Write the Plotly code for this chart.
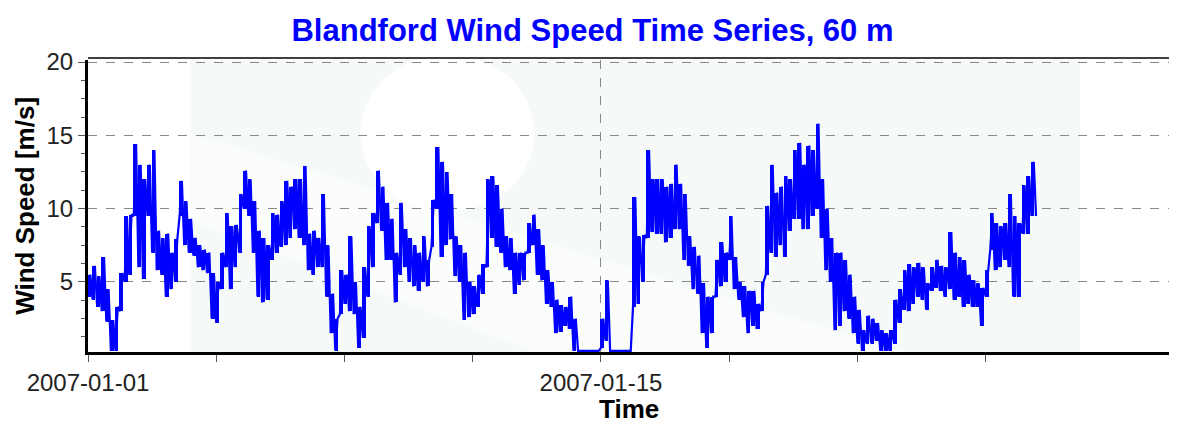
import pandas as pd
import plotly.graph_objects as go

# ---- data: 3-hourly low / high envelope of the 10-min wind speed record (m/s) ----
start_time = "2007-01-01 00:00"
step_hours = 3

lo_values = [
    4.0, 3.8, 3.3, 3.0, 2.3, 0.3, 0.3, 3.0,        # Jan 01
    5.0, 5.5, 9.5, 6.0, 5.2, 9.5, 7.0, 5.8,        # Jan 02
    5.5, 4.0, 4.5, 5.0, 9.5, 7.5, 7.0, 6.8,        # Jan 03
    6.0, 5.8, 5.6, 2.5, 2.2, 4.5, 6.0, 4.5,        # Jan 04
    6.0, 7.0, 10.0, 9.5, 7.0, 4.0, 3.6, 3.8,       # Jan 05
    6.5, 7.0, 7.4, 7.5, 8.0, 8.6, 8.0, 7.5,        # Jan 06
    5.8, 5.5, 6.0, 6.0, 4.0, 1.5, 0.3, 2.8,        # Jan 07
    3.5, 3.0, 2.8, 0.5, 1.2, 4.0, 6.0, 9.0,        # Jan 08
    8.5, 6.5, 6.5, 3.6, 5.5, 6.0, 5.0, 4.7,        # Jan 09
    4.4, 5.0, 4.7, 7.4, 10.0, 6.7, 7.5, 7.9,       # Jan 10
    5.4, 5.0, 2.4, 2.6, 2.8, 3.3, 4.2, 6.0,        # Jan 11
    8.0, 7.4, 7.0, 6.0, 5.8, 4.2, 4.8, 5.1,        # Jan 12
    7.0, 7.5, 5.5, 5.1, 3.5, 3.3, 1.5, 1.6,        # Jan 13
    2.0, 1.8, 0.3, 0.3, 0.3, 0.3, 0.3, 0.3,        # Jan 14
    0.5, 1.0, 0.3, 0.3, 0.3, 0.3, 0.3, 3.3,        # Jan 15
    3.5, 5.0, 8.0, 8.4, 8.3, 8.3, 7.7, 8.0,        # Jan 16
    8.6, 8.6, 6.5, 6.1, 4.5, 4.2, 1.5, 0.5,        # Jan 17
    1.5, 4.0, 4.7, 5.0, 6.5, 4.5, 3.8, 2.6,        # Jan 18
    1.5, 2.0, 1.8, 3.0, 5.5, 7.0, 6.7, 7.5,        # Jan 19
    6.7, 8.5, 9.3, 9.3, 8.6, 8.6, 9.5, 10.0,       # Jan 20
    8.0, 5.8, 5.0, 1.7, 2.0, 3.0, 2.5, 1.5,        # Jan 21
    0.8, 0.3, 0.8, 0.8, 1.0, 0.3, 0.3, 0.3,        # Jan 22
    0.8, 2.2, 3.1, 3.0, 3.5, 4.0, 3.8, 3.1,        # Jan 23
    4.4, 4.6, 4.4, 4.0, 4.5, 3.8, 4.0, 3.3,        # Jan 24
    3.5, 3.3, 3.3, 2.0, 4.0, 7.2, 5.8, 6.0,        # Jan 25
    6.5, 6.0, 4.0, 4.0, 8.3, 8.3, 9.5,             # Jan 26
]
hi_values = [
    5.5, 6.1, 5.4, 6.7, 4.5, 2.4, 3.3, 5.6,
    9.5, 9.6, 14.4, 13.0, 12.0, 13.0, 14.0, 8.5,
    8.0, 8.3, 7.0, 7.9, 11.9, 10.5, 9.3, 8.0,
    7.5, 7.2, 7.0, 5.6, 5.0, 7.0, 9.7, 8.8,
    8.9, 11.0, 12.6, 12.0, 10.5, 8.5, 8.0, 7.5,
    9.7, 9.6, 10.5, 11.9, 11.5, 12.0, 12.0, 12.9,
    8.3, 8.5, 8.0, 11.0, 7.5, 4.2, 2.5, 5.8,
    5.5, 8.1, 5.0, 3.3, 6.0, 8.8, 9.7, 12.6,
    11.5, 10.4, 9.3, 7.0, 10.4, 8.6, 8.0, 7.5,
    7.0, 8.1, 6.5, 10.6, 14.2, 13.2, 12.5, 11.0,
    8.1, 7.5, 7.0, 5.0, 4.7, 5.5, 6.2, 12.0,
    12.2, 11.6, 10.0, 8.1, 8.0, 7.0, 7.0, 7.0,
    9.0, 9.6, 8.6, 7.5, 5.8, 5.0, 3.8, 3.4,
    3.3, 4.0, 2.5, 0.3, 0.3, 0.3, 0.3, 0.3,
    2.5, 5.1, 0.3, 0.3, 0.3, 0.3, 0.3, 10.8,
    8.1, 8.2, 14.0, 12.0, 12.0, 12.0, 11.5, 11.7,
    13.0, 11.7, 11.0, 8.1, 7.4, 6.8, 4.9, 4.0,
    4.0, 6.5, 7.7, 7.0, 9.5, 6.7, 5.0, 4.7,
    4.4, 4.4, 3.5, 5.0, 10.2, 13.0, 11.1, 11.5,
    12.2, 12.0, 14.0, 14.5, 13.0, 14.3, 14.0, 15.8,
    12.0, 10.0, 8.0, 7.0, 7.0, 6.5, 5.5, 4.0,
    3.1, 1.7, 2.7, 2.5, 2.2, 1.7, 1.5, 1.7,
    3.8, 4.5, 5.8, 6.2, 6.0, 6.3, 6.0, 4.9,
    6.0, 6.5, 6.1, 6.0, 8.4, 7.0, 6.7, 6.5,
    5.5, 5.1, 4.9, 4.6, 5.8, 9.7, 9.0, 8.8,
    9.0, 11.0, 9.5, 9.0, 11.6, 12.2, 13.2,
]
last_value = 9.5

x_tick_vals = ["2007-01-01", "2007-01-15"]
x_tick_text = ["2007-01-01", "2007-01-15"]
x_minor_vals = ["2007-01-04 12:00", "2007-01-08", "2007-01-11 12:00",
                "2007-01-18 12:00", "2007-01-22", "2007-01-25 12:00"]
y_tick_vals = [5, 10, 15, 20]

# ---- build the series: each 3-h step contributes its low then its high ----
t0 = pd.Timestamp(start_time)
step = pd.Timedelta(hours=step_hours)
half = step / 2
times, speeds = [], []
bar_x, bar_base, bar_len = [], [], []
for i, (lo, hi) in enumerate(zip(lo_values, hi_values)):
    t = t0 + step * i
    times += [t, t + half]
    speeds += [lo, hi]
    bar_x.append(t + half / 2)
    bar_base.append(lo)
    bar_len.append(hi - lo)
times.append(t0 + step * len(lo_values))
speeds.append(last_value)

fig = go.Figure()
# the band of fast fluctuations inside each 3-h step
fig.add_trace(go.Bar(x=bar_x, y=bar_len, base=bar_base,
                     width=2.3 * 3600 * 1000, marker=dict(color="#0000ff", line_width=0),
                     showlegend=False, hoverinfo="skip"))
fig.add_trace(go.Scatter(x=times, y=speeds, mode="lines",
                         line=dict(color="#0000ff", width=2.2),
                         showlegend=False, hoverinfo="x+y"))

# faint watermark in the plot background
wm = "rgba(236,244,239,0.5)"
fig.add_shape(type="rect", xref="paper", yref="paper", x0=0.094, x1=0.911, y0=0, y1=1,
              fillcolor=wm, line_width=0, layer="below")
fig.add_shape(type="circle", xref="paper", yref="paper", x0=0.25, x1=0.41, y0=0.48, y1=1.02,
              fillcolor="white", line_width=0, layer="below")
fig.add_shape(type="path", xref="paper", yref="paper",
              path="M 0.41 0 L 0.75 0 L 0.094 0.75 L 0.094 0.45 Z",
              fillcolor="rgba(255,255,255,0.6)", line_width=0, layer="below")
# thin top frame line
fig.add_shape(type="line", xref="paper", yref="paper", x0=0, x1=1, y0=1.007, y1=1.007,
              line=dict(color="black", width=1.5))

font_family = "Liberation Sans, Arial, sans-serif"
fig.add_annotation(text="<b>Wind Speed [m/s]</b>", xref="paper", yref="paper",
                   x=-0.058, y=0.50, textangle=-90, showarrow=False,
                   xanchor="center", yanchor="middle",
                   font=dict(family=font_family, size=26, color="black"))
fig.add_annotation(text="<b>Time</b>", xref="paper", yref="paper",
                   x=0.497, y=-0.196, showarrow=False,
                   xanchor="center", yanchor="middle",
                   font=dict(family=font_family, size=26, color="black"))

# the page body has an 8 px margin, so the figure is 8 px smaller and margins shifted
fig.update_layout(
    width=1169, height=417,
    margin=dict(l=80, r=0, t=52, b=73, autoexpand=False),
    paper_bgcolor="white", plot_bgcolor="white",
    bargap=0,
    title=dict(text="<b>Blandford Wind Speed Time Series, 60 m</b>",
               x=0.5, xanchor="center", y=0.947, yanchor="middle",
               font=dict(family=font_family, size=31, color="#0000ff")),
    font=dict(family=font_family, color="#222222"),
    xaxis=dict(
        range=["2007-01-01", "2007-01-30 17:20"],
        automargin=False,
        tickmode="array", tickvals=x_tick_vals, ticktext=x_tick_text,
        ticks="outside", ticklen=7, tickwidth=1, tickcolor="#555555",
        tickfont=dict(size=24, color="#222222"),
        showgrid=True, gridcolor="#888888", griddash="dash", gridwidth=1,
        showline=True, linecolor="black", linewidth=3,
        minor=dict(tickvals=x_minor_vals, ticks="outside", ticklen=7,
                   tickcolor="#555555", showgrid=False),
        zeroline=False,
    ),
    yaxis=dict(
        range=[0.22, 20.14],
        automargin=False,
        tickmode="array", tickvals=y_tick_vals,
        ticks="outside", ticklen=7, tickwidth=1, tickcolor="#555555",
        tickfont=dict(size=24, color="#222222"),
        showgrid=True, gridcolor="#888888", griddash="dash", gridwidth=1,
        showline=True, linecolor="black", linewidth=3,
        minor=dict(dtick=1.25, tick0=0, ticks="outside", ticklen=4,
                   tickcolor="#555555", showgrid=False),
        zeroline=False,
    ),
)

fig.write_html("out.html")
